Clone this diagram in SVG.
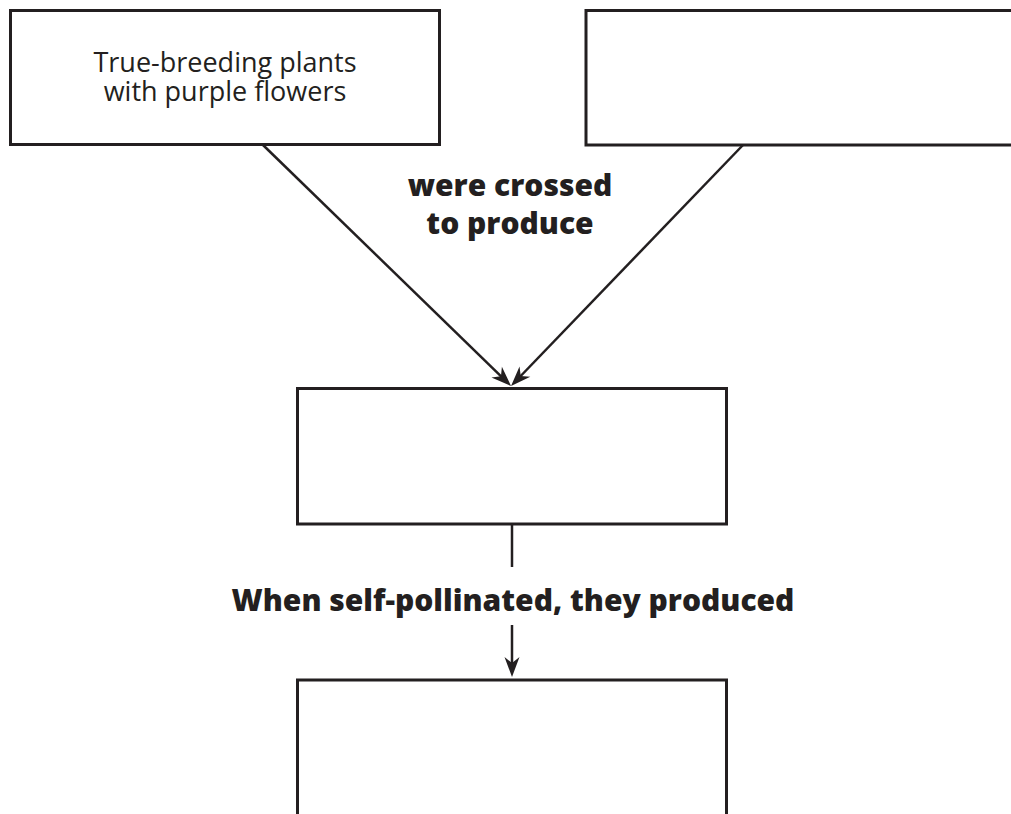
<svg xmlns="http://www.w3.org/2000/svg" width="1011" height="814" viewBox="0 0 1011 814">
<style>
.box{fill:#fff;stroke:#231f20;stroke-width:3}
.con{fill:none;stroke:#231f20;stroke-width:2.5}
.reg{font-family:"Open Sans","Liberation Sans",sans-serif;font-size:27px;fill:#231f20;text-anchor:middle}
.bold{font-family:"Open Sans","Liberation Sans",sans-serif;font-weight:800;font-size:30px;fill:#231f20;text-anchor:middle}
</style>
<defs>
<marker id="arr" markerUnits="userSpaceOnUse" viewBox="-22 -9 24 18" refX="-7" refY="0" markerWidth="24" markerHeight="18" orient="auto">
<path d="M0,0 L-20,-7.5 L-14,0 L-20,7.5 Z" fill="#231f20"/>
</marker>
</defs>
<rect width="1011" height="814" fill="#fff"/>
<g id="node-parent1">
<rect class="box" x="10.5" y="10.5" width="429" height="134"/>
<text class="reg" x="225" y="72"><tspan x="225" y="72">True-breeding plants</tspan><tspan x="225" y="101">with purple flowers</tspan></text>
</g>
<g id="node-parent2">
<rect class="box" x="586" y="10.5" width="440" height="134.5"/>
</g>
<g id="node-f1">
<rect class="box" x="297.5" y="388.5" width="429" height="135.5"/>
</g>
<g id="node-f2">
<path class="box" d="M297.5,820 V680 H726.5 V820"/>
</g>
<g id="connectors">
<line class="con" x1="263" y1="145" x2="506" y2="381.1" marker-end="url(#arr)"/>
<line class="con" x1="743" y1="145" x2="515.9" y2="381" marker-end="url(#arr)"/>
<line class="con" x1="512" y1="524" x2="512" y2="567"/>
<line class="con" x1="512" y1="625" x2="512" y2="670" marker-end="url(#arr)"/>
<text class="bold" x="510" y="196"><tspan x="510" y="196">were crossed</tspan><tspan x="510" y="234">to produce</tspan></text>
<text class="bold" x="513" y="611">When self-pollinated, they produced</text>
</g>
</svg>
